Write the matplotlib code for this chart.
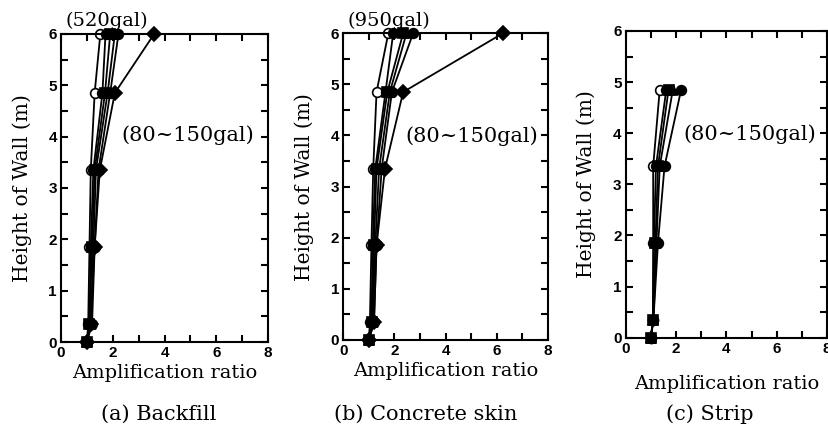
import numpy as np
import matplotlib
matplotlib.use("Agg")
import matplotlib.pyplot as plt
from matplotlib.ticker import MultipleLocator

# heights of the measuring points (m)
h_full = [0.0, 0.35, 1.85, 3.35, 4.85, 6.0]
h_strip = [0.0, 0.35, 1.85, 3.35, 4.85]

# amplification ratios
backfill = [
    [1.0, 1.05, 1.10, 1.15, 1.30, 1.52],
    [1.0, 1.10, 1.15, 1.25, 1.60, 1.72],
    [1.0, 1.10, 1.20, 1.30, 1.70, 1.90],
    [1.0, 1.15, 1.25, 1.35, 1.80, 2.08],
    [1.0, 1.20, 1.30, 1.45, 1.90, 2.22],
    [1.0, 1.15, 1.30, 1.50, 2.08, 3.60],
]
concrete = [
    [1.0, 1.04, 1.10, 1.17, 1.30, 1.76],
    [1.0, 1.10, 1.15, 1.25, 1.65, 1.95],
    [1.0, 1.12, 1.20, 1.30, 1.72, 2.34],
    [1.0, 1.15, 1.25, 1.40, 1.82, 2.47],
    [1.0, 1.20, 1.30, 1.50, 1.90, 2.73],
    [1.0, 1.20, 1.30, 1.63, 2.34, 6.24],
]
strip = [
    [1.0, 1.08, 1.09, 1.09, 1.35],
    [1.0, 1.08, 1.12, 1.20, 1.61],
    [1.0, 1.09, 1.18, 1.28, 1.70],
    [1.0, 1.10, 1.22, 1.35, 1.87],
    [1.0, 1.10, 1.28, 1.54, 2.20],
]

markers = ["o", "o", "s", "^", "o", "D"]
faces = ["white", "black", "black", "black", "black", "black"]

serif = "DejaVu Serif"

fig = plt.figure(figsize=(8.29, 4.42), dpi=100)

# rect, heights, data, caption, caption x, xlabel pad
panels = [
    ([0.0736, 0.2262, 0.2497, 0.697], h_full, backfill, "(a) Backfill", 0.192, 3),
    ([0.4141, 0.2308, 0.2469, 0.694], h_full, concrete, "(b) Concrete skin", 0.514, 3),
    ([0.7548, 0.2360, 0.2430, 0.694], h_strip, strip, "(c) Strip", 0.856, 14),
]

for rect, hs, data, caption, cx, xpad in panels:
    ax = fig.add_axes(rect)
    for i, vals in enumerate(data):
        ax.plot(vals, hs, color="black", lw=1.3, marker=markers[i],
                ms=7, mfc=faces[i], mec="black", mew=1.2, clip_on=False)
    ax.set_xlim(0, 8)
    ax.set_ylim(0, 6)
    ax.xaxis.set_major_locator(MultipleLocator(2))
    ax.xaxis.set_minor_locator(MultipleLocator(1))
    ax.yaxis.set_major_locator(MultipleLocator(1))
    ax.yaxis.set_minor_locator(MultipleLocator(0.5))
    ax.tick_params(which="both", direction="in", top=True, right=True,
                   width=1.5, length=5, labelsize=11, pad=3)
    for lab in ax.get_xticklabels() + ax.get_yticklabels():
        lab.set_fontweight("bold")
        lab.set_family("Liberation Sans")
    for sp in ax.spines.values():
        sp.set_linewidth(1.5)
    ax.set_ylabel("Height of Wall (m)", family=serif, fontsize=14.5, labelpad=12)
    ax.set_xlabel("Amplification ratio", family=serif, fontsize=14, labelpad=xpad)
    fig.text(cx, 0.063, caption, family=serif, fontsize=15,
             ha="center", va="center")

fig.text(0.0796, 0.952, "(520gal)", family=serif, fontsize=14, va="center")
fig.text(0.147, 0.694, "(80~150gal)", family=serif, fontsize=15, va="center")
fig.text(0.4186, 0.952, "(950gal)", family=serif, fontsize=14, va="center")
fig.text(0.4885, 0.691, "(80~150gal)", family=serif, fontsize=15, va="center")
fig.text(0.824, 0.697, "(80~150gal)", family=serif, fontsize=15, va="center")

fig.savefig("out.png", dpi=100)
